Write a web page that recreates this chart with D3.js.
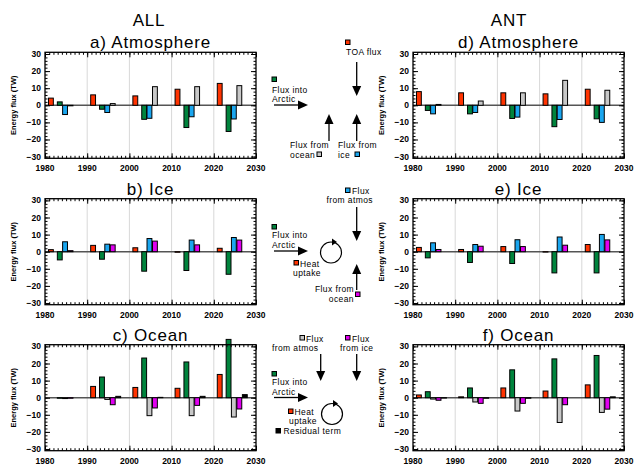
<!DOCTYPE html>
<meta charset="utf-8">
<style>
body { margin: 0; background: #fff; }
text { font-family: "Liberation Sans", Arial, sans-serif; fill: #000; }
.tick-label { font-size: 8.5px; font-weight: bold; }
.ylab { font-size: 7.5px; font-weight: bold; }
.title { font-size: 17px; letter-spacing: 0.8px; }
.note { font-size: 8.5px; letter-spacing: 0.4px; }
</style>
<body>
<script src="https://d3js.org/d3.v7.min.js"></script>
<script>

var decades = [1980, 1990, 2000, 2010, 2020];
var yTicks = [-30, -20, -10, 0, 10, 20, 30];
var xTicks = [1980, 1990, 2000, 2010, 2020, 2030];

// ALL - atmosphere
var allAtmToa   = [4.2, 6.1, 5.5, 9.4, 12.8];
var allAtmInto  = [2.0, -2.3, -8.2, -13.0, -15.3];
var allAtmIce   = [-5.4, -4.2, -7.6, -6.7, -8.0];
var allAtmOcean = [-0.3, 1.0, 10.9, 10.9, 11.5];
// ALL - ice
var allIceHeat  = [1.2, 3.7, 2.3, -0.3, 2.0];
var allIceInto  = [-4.8, -4.4, -11.4, -11.0, -13.2];
var allIceAtm   = [5.8, 4.4, 7.7, 6.8, 8.3];
var allIceOcean = [0.6, 4.0, 6.2, 4.0, 6.8];
// ALL - ocean
var allOcnHeat  = [0.0, 6.6, 6.0, 5.5, 13.6];
var allOcnInto  = [-0.3, 12.1, 23.2, 20.9, 34.1];
var allOcnAtm   = [-0.5, -1.0, -10.5, -10.5, -11.3];
var allOcnIce   = [-0.3, -4.1, -6.0, -4.5, -6.6];
var allOcnRes   = [0.0, 0.8, 0.2, 0.8, 1.8];

// ANT - atmosphere
var antAtmToa   = [8.0, 7.3, 7.3, 6.7, 9.4];
var antAtmInto  = [-3.0, -5.0, -7.7, -12.5, -7.9];
var antAtmIce   = [-5.0, -4.2, -6.9, -8.3, -10.0];
var antAtmOcean = [0.5, 2.5, 7.3, 14.6, 8.8];
// ANT - ice
var antIceHeat  = [2.5, 1.3, 3.0, -0.2, 4.2];
var antIceInto  = [-3.6, -6.3, -6.9, -12.4, -12.4];
var antIceAtm   = [5.2, 4.2, 7.0, 8.6, 10.1];
var antIceOcean = [1.3, 3.2, 3.0, 3.8, 6.9];
// ANT - ocean
var antOcnHeat  = [1.6, 0.5, 5.7, 3.9, 7.5];
var antOcnInto  = [3.5, 5.7, 16.3, 22.7, 24.7];
var antOcnAtm   = [-0.8, -2.5, -7.8, -14.5, -8.6];
var antOcnIce   = [-1.5, -3.3, -3.3, -4.1, -6.7];
var antOcnRes   = [-0.2, -0.3, -0.3, 0.0, 0.5];

var cRed = "#ff3300", cGreen = "#00843d", cBlue = "#1aa6ef",
    cGray = "#c8c8c8", cMag = "#e000f0", cBlack = "#000000";

// bar position inside a decade (years) and bar width
var slots = [1.4, 3.5, 4.75, 6.05, 7.35];
var barW = 1.15;

var width = 635, height = 466;
var svg = d3.select("body").append("svg")
    .attr("width", width)
    .attr("height", height);

var panels = [
  {title: "a) Atmosphere", left: 45, zero: 105.3, series: [
    [allAtmToa, cRed], [allAtmInto, cGreen], [allAtmIce, cBlue], [allAtmOcean, cGray]]},
  {title: "b) Ice", left: 45, zero: 251.7, series: [
    [allIceHeat, cRed], [allIceInto, cGreen], [allIceAtm, cBlue], [allIceOcean, cMag]]},
  {title: "c) Ocean", left: 45, zero: 397.7, series: [
    [allOcnHeat, cRed], [allOcnInto, cGreen], [allOcnAtm, cGray], [allOcnIce, cMag], [allOcnRes, cBlack]]},
  {title: "d) Atmosphere", left: 413, zero: 105.3, series: [
    [antAtmToa, cRed], [antAtmInto, cGreen], [antAtmIce, cBlue], [antAtmOcean, cGray]]},
  {title: "e) Ice", left: 413, zero: 251.7, series: [
    [antIceHeat, cRed], [antIceInto, cGreen], [antIceAtm, cBlue], [antIceOcean, cMag]]},
  {title: "f) Ocean", left: 413, zero: 397.7, series: [
    [antOcnHeat, cRed], [antOcnInto, cGreen], [antOcnAtm, cGray], [antOcnIce, cMag], [antOcnRes, cBlack]]}
];

var pw = 211, halfH = 53;

panels.forEach(function(p) {
  var x = d3.scaleLinear().domain([1980, 2030]).range([p.left, p.left + pw]);
  var y = d3.scaleLinear().domain([-31, 31]).range([p.zero + halfH, p.zero - halfH]);
  var g = svg.append("g");

  // decade grid lines
  g.selectAll(".grid").data([1990, 2000, 2010, 2020]).enter().append("line")
    .attr("x1", function(d) { return x(d); }).attr("x2", function(d) { return x(d); })
    .attr("y1", y(31)).attr("y2", y(-31))
    .attr("stroke", "#d8d8d8").attr("stroke-width", 1);

  // zero line
  g.append("line")
    .attr("x1", x(1980)).attr("x2", x(2030))
    .attr("y1", y(0)).attr("y2", y(0))
    .attr("stroke", "#555").attr("stroke-width", 1.5);

  // bars
  p.series.forEach(function(s, i) {
    g.selectAll(".bar" + i).data(s[0]).enter().append("rect")
      .attr("x", function(d, j) { return x(decades[j] + slots[i] - barW / 2); })
      .attr("width", x(1980 + barW) - x(1980))
      .attr("y", function(d) { return y(Math.max(d, 0)); })
      .attr("height", function(d) { return Math.abs(y(d) - y(0)); })
      .attr("fill", s[1])
      .attr("stroke", "#000").attr("stroke-width", 1);
  });

  // frame with inward ticks on all sides
  var axL = d3.axisLeft(y).tickValues(d3.range(-30, 31, 2)).tickSize(-2.5).tickFormat("");
  var axR = d3.axisRight(y).tickValues(d3.range(-30, 31, 2)).tickSize(-2.5).tickFormat("");
  var axB = d3.axisBottom(x).tickValues(d3.range(1981, 2030, 1)).tickSize(-2.5).tickFormat("");
  var axT = d3.axisTop(x).tickValues(d3.range(1981, 2030, 1)).tickSize(-2.5).tickFormat("");
  var axL2 = d3.axisLeft(y).tickValues(yTicks).tickSize(-5).tickFormat("");
  var axR2 = d3.axisRight(y).tickValues(yTicks).tickSize(-5).tickFormat("");
  var axB2 = d3.axisBottom(x).tickValues(xTicks).tickSize(-5).tickFormat("");
  var axT2 = d3.axisTop(x).tickValues(xTicks).tickSize(-5).tickFormat("");
  [[axL, "translate(" + x(1980) + ",0)"], [axR, "translate(" + x(2030) + ",0)"],
   [axB, "translate(0," + y(-31) + ")"], [axT, "translate(0," + y(31) + ")"],
   [axL2, "translate(" + x(1980) + ",0)"], [axR2, "translate(" + x(2030) + ",0)"],
   [axB2, "translate(0," + y(-31) + ")"], [axT2, "translate(0," + y(31) + ")"]]
    .forEach(function(a) {
      var ag = g.append("g").attr("transform", a[1]).call(a[0]);
      ag.select(".domain").remove();
      ag.selectAll("line").attr("stroke", "#000").attr("stroke-width", 1);
    });

  g.append("rect")
    .attr("x", x(1980)).attr("y", y(31))
    .attr("width", x(2030) - x(1980)).attr("height", y(-31) - y(31))
    .attr("fill", "none").attr("stroke", "#000").attr("stroke-width", 1.3);

  // tick labels
  g.selectAll(".yl").data(yTicks).enter().append("text")
    .attr("class", "tick-label")
    .attr("x", x(1980) - 4).attr("y", function(d) { return y(d) + 3; })
    .attr("text-anchor", "end")
    .text(d3.format("d"));
  g.selectAll(".xl").data(xTicks).enter().append("text")
    .attr("class", "tick-label")
    .attr("x", function(d) { return x(d); }).attr("y", y(-31) + 13)
    .attr("text-anchor", "middle")
    .text(function(d) { return d; });

  g.append("text").attr("class", "ylab")
    .attr("transform", "translate(" + (x(1980) - 29) + "," + p.zero + ") rotate(-90)")
    .attr("text-anchor", "middle")
    .text("Energy flux (TW)");

  g.append("text").attr("class", "title")
    .attr("x", x(2005)).attr("y", p.zero - 57)
    .attr("text-anchor", "middle")
    .text(p.title);
});

svg.append("text").attr("class", "title").attr("x", 149).attr("y", 26)
  .attr("text-anchor", "middle").text("ALL");
svg.append("text").attr("class", "title").attr("x", 509).attr("y", 26)
  .attr("text-anchor", "middle").text("ANT");

// ---- schematics in the middle column ----
function arrow(x1, y1, x2, y2) {
  var a = Math.atan2(y2 - y1, x2 - x1), L = 10, w = 4.5;
  var bx = x2 - L * Math.cos(a), by = y2 - L * Math.sin(a);
  svg.append("line").attr("x1", x1).attr("y1", y1).attr("x2", bx).attr("y2", by)
    .attr("stroke", "#000").attr("stroke-width", 1.3);
  svg.append("path")
    .attr("d", "M" + x2 + "," + y2 +
      "L" + (bx - w * Math.sin(a)) + "," + (by + w * Math.cos(a)) +
      "L" + (bx + w * Math.sin(a)) + "," + (by - w * Math.cos(a)) + "Z")
    .attr("fill", "#000");
}
function swatch(x, y, c) {
  svg.append("rect").attr("x", x).attr("y", y).attr("width", 4.5).attr("height", 4.5)
    .attr("fill", c).attr("stroke", "#000").attr("stroke-width", 1);
}
function note(x, y, s, anchor) {
  svg.append("text").attr("class", "note").attr("x", x).attr("y", y)
    .attr("text-anchor", anchor || "start").text(s);
}
function loop(cx, cy) {
  svg.append("circle").attr("cx", cx).attr("cy", cy).attr("r", 10.5)
    .attr("fill", "none").attr("stroke", "#000").attr("stroke-width", 1.2);
  svg.append("path")
    .attr("d", "M" + (cx + 6) + "," + (cy - 10.5) + "L" + (cx + 1) + "," + (cy - 14) +
      "L" + (cx + 1) + "," + (cy - 7) + "Z")
    .attr("fill", "#000");
}

// atmosphere
swatch(345.5, 40, cRed);
note(346, 55, "TOA flux");
arrow(356.7, 62, 356.7, 96);
swatch(272, 77, cGreen);
note(272, 92.5, "Flux into");
note(272, 102, "Arctic");
arrow(274, 105, 308, 105);
arrow(329, 141, 329, 114);
arrow(356.7, 141, 356.7, 114);
note(290, 148, "Flux from");
note(290, 157.5, "ocean");
swatch(317, 152, cGray);
note(338, 148, "Flux from");
note(338, 157.5, "ice");
swatch(355, 152, cBlue);

// ice
swatch(345.5, 188, cBlue);
note(352, 194, "Flux");
note(373, 203, "from atmos", "end");
arrow(356.7, 207, 356.7, 241);
swatch(272, 224.5, cGreen);
note(272, 238, "Flux into");
note(272, 247.5, "Arctic");
arrow(274, 251, 308, 251);
loop(331, 252.5);
swatch(294, 260.5, cRed);
note(300, 266.5, "Heat");
note(321, 276, "uptake", "end");
arrow(356.7, 290, 356.7, 264);
note(354, 292, "Flux from", "end");
note(354, 301.5, "ocean", "end");
swatch(355.5, 292, cMag);

// ocean
swatch(300, 335.5, cGray);
note(306, 341.5, "Flux");
note(318.5, 351, "from atmos", "end");
swatch(345.5, 335.5, cMag);
note(352, 341.5, "Flux");
note(373.5, 351, "from ice", "end");
arrow(320.7, 354, 320.7, 381);
arrow(356.7, 354, 356.7, 381);
swatch(272, 371.5, cGreen);
note(272, 385, "Flux into");
note(272, 394.5, "Arctic");
arrow(274, 397.5, 308, 397.5);
swatch(288.5, 409, cRed);
note(294.5, 415, "Heat");
note(317, 424, "uptake", "end");
loop(332, 414);
swatch(276, 428.5, cBlack);
note(283.5, 434, "Residual term");

</script>
</body>
